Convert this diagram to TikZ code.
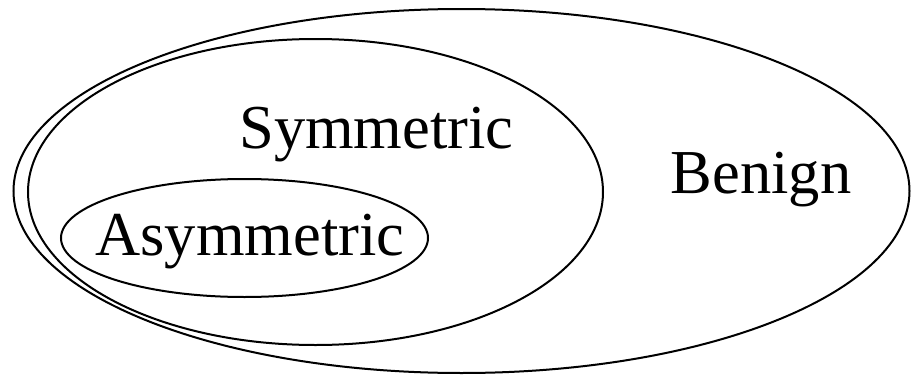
\documentclass[tikz,border=0pt]{standalone}
\usepackage{fontspec}
\setmainfont{Liberation Serif}
\begin{document}
\begin{tikzpicture}[x=1pt,y=-1pt,
  setline/.style={draw=black,line width=2pt},
  setlabel/.style={anchor=base,inner sep=0pt,font=\fontsize{62.5}{70}\selectfont}]
\useasboundingbox (0,0) rectangle (911,375);
% sets
\draw[setline] (461.5,191) ellipse [x radius=448, y radius=182];
\draw[setline] (315.5,192) ellipse [x radius=287.5, y radius=153];
\draw[setline] (244.5,238) ellipse [x radius=183.5, y radius=59];
% labels
\node[setlabel] (sym) at (376.5,148) {Symmetric};
\node[setlabel] (asym) at (250,255) {Asymmetric};
\node[setlabel] (ben) at (761,193) {Benign};
\end{tikzpicture}
\end{document}
